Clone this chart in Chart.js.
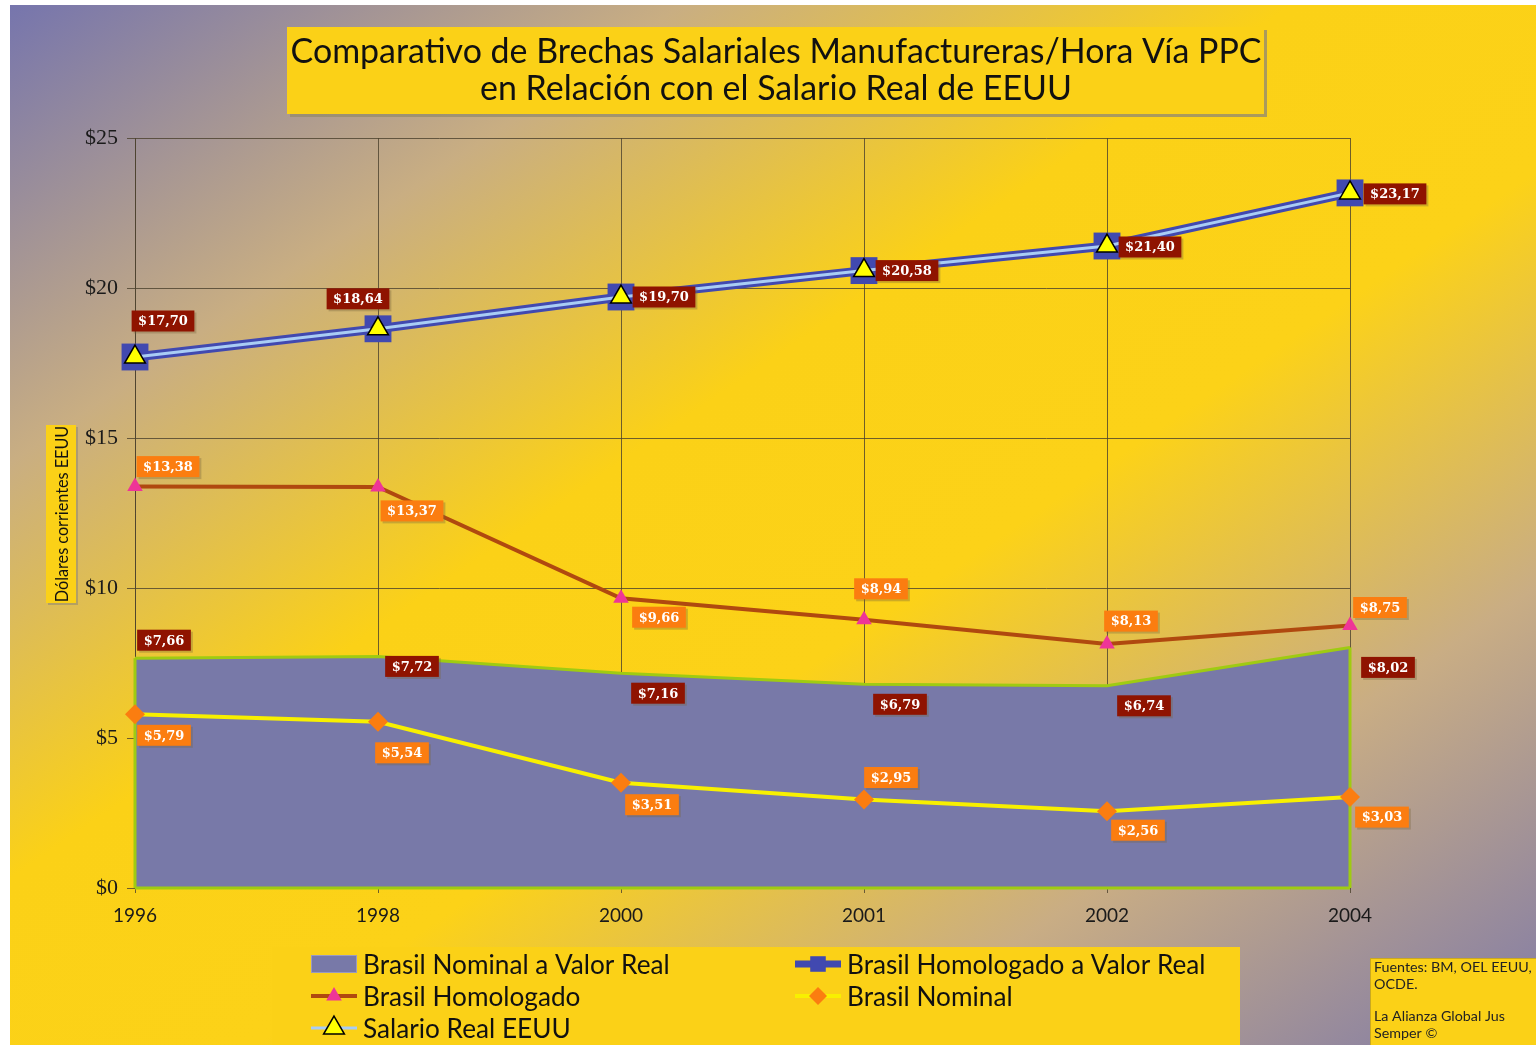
<!DOCTYPE html>
<html>
<head>
<meta charset="utf-8">
<script src="https://cdn.jsdelivr.net/npm/chart.js@4.4.1/dist/chart.umd.min.js"></script>
<style>
    html, body { margin: 0; padding: 0; background: #ffffff; }
    #bg {
        position: absolute; left: 10px; top: 5px; width: 1526px; height: 1040px;
        background: linear-gradient(to bottom right, #7675ad 0%, #c9ae82 22%, #fbd117 42%, #fcd218 58%, #c9ad84 78%, #7f7aa8 100%);
    }
    #wrap { position: absolute; left: 0; top: 0; width: 1536px; height: 1045px; }
</style>
</head>
<body>
<div id="bg"></div>
<div id="wrap"><canvas id="brechasChart" width="1536" height="1045"></canvas></div>
<script>
const years = ['1996', '1998', '2000', '2001', '2002', '2004'];
const nominalValorReal = [7.66, 7.72, 7.16, 6.79, 6.74, 8.02];
const homologadoValorReal = [17.70, 18.64, 19.70, 20.58, 21.40, 23.17];
const homologado = [13.38, 13.37, 9.66, 8.94, 8.13, 8.75];
const nominal = [5.79, 5.54, 3.51, 2.95, 2.56, 3.03];
const salarioRealEEUU = [17.70, 18.64, 19.70, 20.58, 21.40, 23.17];
const yMin = 0, yMax = 25, yStep = 5;

const titleLines = [
    'Comparativo de Brechas Salariales Manufactureras/Hora Vía PPC',
    'en Relación con el Salario Real de EEUU'
];
const yAxisTitle = 'Dólares corrientes EEUU';
const sourceLines = ['Fuentes: BM, OEL EEUU,', 'OCDE.', '', 'La Alianza Global Jus', 'Semper ©'];

const YELLOW = '#fbd117';

function fmt(v) {
    return '$' + v.toFixed(2).replace('.', ',');
}

// draws text squeezed horizontally, Optima-like
function condensedText(ctx, text, x, y, font, sx, align) {
    ctx.save();
    ctx.font = font;
    ctx.textBaseline = 'middle';
    ctx.textAlign = align || 'left';
    ctx.translate(x, y);
    ctx.scale(sx, 1);
    ctx.fillText(text, 0, 0);
    ctx.restore();
}

function shadowBox(ctx, x, y, w, h, fill, shadow, off) {
    if (shadow) {
        ctx.fillStyle = shadow;
        ctx.fillRect(x + off, y + off, w, h);
    }
    ctx.fillStyle = fill;
    ctx.fillRect(x, y, w, h);
}

const boxesPlugin = {
    id: 'boxes',
    beforeDraw(chart) {
        const ctx = chart.ctx;
        // title
        shadowBox(ctx, 287, 27, 977, 87, YELLOW, 'rgba(150,140,110,0.8)', 3);
        ctx.fillStyle = '#111';
        condensedText(ctx, titleLines[0], 776, 52, '35px Lato', 0.97, 'center');
        condensedText(ctx, titleLines[1], 776, 89, '35px Lato', 0.97, 'center');

        // y axis title
        shadowBox(ctx, 46, 425, 30, 178, YELLOW, 'rgba(150,140,110,0.6)', 2);
        ctx.save();
        ctx.translate(62, 514);
        ctx.rotate(-Math.PI / 2);
        ctx.fillStyle = '#111';
        condensedText(ctx, yAxisTitle, 0, 0, '18px Lato', 0.9, 'center');
        ctx.restore();

        // legend box
        ctx.fillStyle = YELLOW;
        ctx.fillRect(272, 947, 968, 98);

        // source box
        ctx.fillStyle = '#c9a820';
        ctx.fillRect(1370, 958, 166, 87);
        ctx.fillStyle = YELLOW;
        ctx.fillRect(1371, 959, 165, 86);
        ctx.fillStyle = '#222';
        sourceLines.forEach((t, i) => {
            if (t) condensedText(ctx, t, 1374, 968 + i * 16.3, '13.5px Lato', 1.06, 'left');
        });
    }
};

const edgePlugin = {
    id: 'areaEdges',
    afterDatasetDraw(chart, args) {
        const ds = chart.data.datasets[args.index];
        if (!ds.edgeColor) return;
        const pts = args.meta.data;
        const base = chart.scales.y.getPixelForValue(0);
        const ctx = chart.ctx;
        ctx.save();
        ctx.strokeStyle = ds.edgeColor;
        ctx.lineWidth = 3;
        [pts[0], pts[pts.length - 1]].forEach(p => {
            ctx.beginPath();
            ctx.moveTo(p.x, p.y);
            ctx.lineTo(p.x, base);
            ctx.stroke();
        });
        ctx.beginPath();
        ctx.moveTo(pts[0].x, base);
        ctx.lineTo(pts[pts.length - 1].x, base);
        ctx.stroke();
        ctx.restore();
    }
};

const labelPlugin = {
    id: 'valueLabels',
    afterDatasetsDraw(chart) {
        const ctx = chart.ctx;
        ctx.save();
        ctx.font = 'bold 13px "DejaVu Serif"';
        ctx.textAlign = 'center';
        ctx.textBaseline = 'middle';
        chart.data.datasets.forEach((ds, i) => {
            if (!ds.labelOffsets) return;
            const meta = chart.getDatasetMeta(i);
            meta.data.forEach((pt, j) => {
                const text = fmt(ds.data[j]);
                const off = ds.labelOffsets[j];
                const w = ctx.measureText(text).width + 13;
                const h = 21;
                const cx = pt.x + off[0], cy = pt.y + off[1];
                ctx.fillStyle = 'rgba(120,100,60,0.35)';
                ctx.fillRect(cx - w / 2 + 2, cy - h / 2 + 2, w, h);
                ctx.fillStyle = ds.labelBg;
                ctx.fillRect(cx - w / 2, cy - h / 2, w, h);
                ctx.fillStyle = '#ffffff';
                ctx.fillText(text, cx, cy + 1);
            });
        });
        ctx.restore();
    }
};

const legendPlugin = {
    id: 'boxLegend',
    afterDraw(chart) {
        const ctx = chart.ctx;
        const items = chart.options.plugins.boxLegend.items;
        items.forEach(it => {
            const ds = chart.data.datasets[it.index];
            const x0 = it.x, x1 = it.x + 46, cx = it.x + 23, cy = it.y;
            ctx.save();
            if (ds.fill) {
                ctx.fillStyle = ds.backgroundColor;
                ctx.fillRect(x0, cy - 9, 46, 18);
                ctx.strokeStyle = '#9a9ac0';
                ctx.lineWidth = 1;
                ctx.strokeRect(x0 + 0.5, cy - 8.5, 45, 17);
            } else {
                ctx.strokeStyle = ds.borderColor;
                ctx.lineWidth = Math.min(ds.borderWidth, 7);
                ctx.beginPath();
                ctx.moveTo(x0, cy);
                ctx.lineTo(x1, cy);
                ctx.stroke();
                const r = it.markerRadius;
                ctx.fillStyle = ds.pointBackgroundColor;
                ctx.strokeStyle = ds.pointBorderColor;
                ctx.lineWidth = ds.pointBorderWidth;
                Chart.helpers.drawPoint(ctx, {
                    pointStyle: ds.pointStyle,
                    radius: r,
                    rotation: 0,
                    borderWidth: ds.pointBorderWidth
                }, cx, cy);
            }
            ctx.restore();
            ctx.fillStyle = '#111';
            condensedText(ctx, ds.label, x1 + 6, cy + 1, '27px Lato', 0.97, 'left');
        });
    }
};

const ctx = document.getElementById('brechasChart').getContext('2d');

new Chart(ctx, {
    type: 'line',
    data: {
        labels: years,
        datasets: [
            {
                label: 'Salario Real EEUU',
                data: salarioRealEEUU,
                borderColor: '#a9cdf5',
                borderWidth: 3,
                pointStyle: 'triangle',
                pointRadius: 12,
                pointBackgroundColor: '#ffff00',
                pointBorderColor: '#000000',
                pointBorderWidth: 1.5,
                tension: 0,
                fill: false,
                clip: false
            },
            {
                label: 'Brasil Homologado a Valor Real',
                data: homologadoValorReal,
                borderColor: '#4149b0',
                borderWidth: 9,
                pointStyle: 'rect',
                pointRadius: 19,
                pointBackgroundColor: '#4149b0',
                pointBorderColor: '#4149b0',
                pointBorderWidth: 0,
                tension: 0,
                fill: false,
                clip: false,
                labelBg: '#8f1300',
                labelOffsets: [[28, -36], [-20, -30], [43, 0], [43, 0], [43, 1], [45, 1]]
            },
            {
                label: 'Brasil Homologado',
                data: homologado,
                borderColor: '#b0490f',
                borderWidth: 4,
                pointStyle: 'triangle',
                pointRadius: 9,
                pointBackgroundColor: '#ee3597',
                pointBorderColor: '#ee3597',
                pointBorderWidth: 0,
                tension: 0,
                fill: false,
                clip: false,
                labelBg: '#fb7d10',
                labelOffsets: [[33, -20], [34, 24], [38, 19], [17, -31], [24, -23], [30, -18]]
            },
            {
                label: 'Brasil Nominal',
                data: nominal,
                borderColor: '#f8f000',
                borderWidth: 4,
                pointStyle: 'rectRot',
                pointRadius: 10,
                pointBackgroundColor: '#fb7d10',
                pointBorderColor: '#fb7d10',
                pointBorderWidth: 0,
                tension: 0,
                fill: false,
                clip: false,
                labelBg: '#fb7d10',
                labelOffsets: [[29, 21], [24, 31], [31, 22], [27, -22], [31, 19], [32, 20]]
            },
            {
                label: 'Brasil Nominal a Valor Real',
                data: nominalValorReal,
                borderColor: '#9fcb12',
                borderWidth: 3,
                backgroundColor: '#7879a8',
                pointRadius: 0,
                tension: 0,
                fill: 'origin',
                clip: false,
                edgeColor: '#9fcb12',
                labelBg: '#8f1300',
                labelOffsets: [[29, -18], [34, 10], [37, 20], [36, 20], [37, 20], [38, 20]]
            }
        ]
    },
    options: {
        responsive: false,
        animation: false,
        devicePixelRatio: 1,
        layout: {
            padding: { left: 75, right: 186, top: 138, bottom: 117 }
        },
        scales: {
            x: {
                offset: false,
                afterFit: function (scale) { scale.height = 40; },
                grid: {
                    offset: false,
                    color: 'rgba(75,65,45,0.8)',
                    lineWidth: 1,
                    tickLength: 5
                },
                border: { color: 'rgba(75,65,45,0.8)' },
                ticks: {
                    color: '#1a1a1a',
                    font: { family: 'Lato', size: 19 },
                    padding: 11,
                    maxRotation: 0
                }
            },
            y: {
                min: yMin,
                max: yMax,
                afterFit: function (scale) { scale.width = 60; },
                grid: {
                    color: 'rgba(75,65,45,0.8)',
                    lineWidth: 1,
                    tickLength: 8
                },
                border: { color: 'rgba(75,65,45,0.8)' },
                ticks: {
                    stepSize: yStep,
                    color: '#1a1a1a',
                    font: { family: 'Liberation Serif', size: 22 },
                    padding: 9,
                    callback: function (v) { return '$' + v; }
                }
            }
        },
        plugins: {
            legend: { display: false },
            title: { display: false },
            tooltip: { enabled: false },
            boxLegend: {
                items: [
                    { index: 4, x: 311, y: 964, markerRadius: 0 },
                    { index: 1, x: 795, y: 964, markerRadius: 11 },
                    { index: 2, x: 311, y: 996, markerRadius: 9 },
                    { index: 3, x: 795, y: 996, markerRadius: 9 },
                    { index: 0, x: 311, y: 1028, markerRadius: 12 }
                ]
            }
        }
    },
    plugins: [boxesPlugin, edgePlugin, labelPlugin, legendPlugin]
});
</script>
</body>
</html>
